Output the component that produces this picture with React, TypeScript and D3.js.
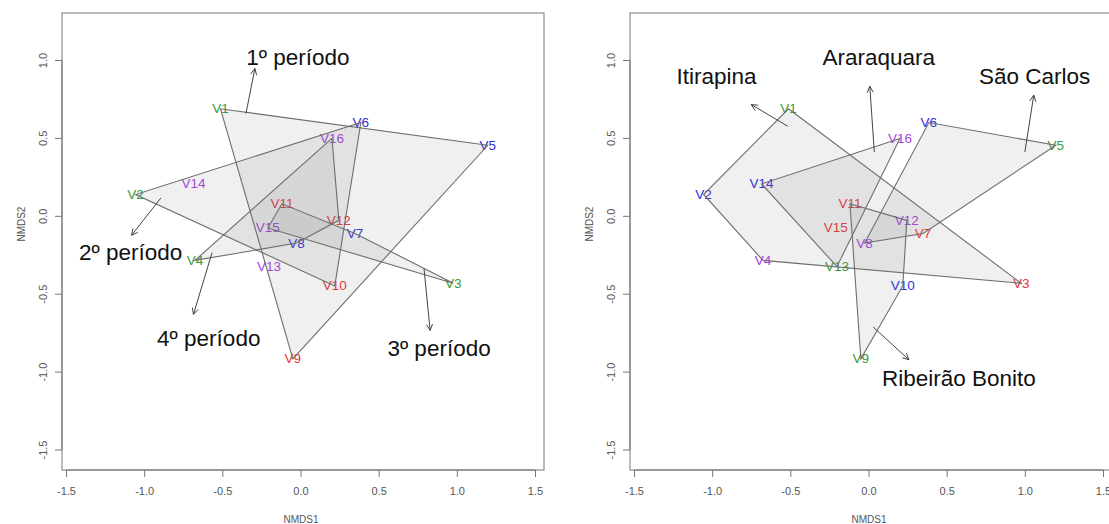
import React from "react";
import * as d3 from "d3";

// ---- data ----
const labels = ["V1","V2","V3","V4","V5","V6","V7","V8","V9","V10","V11","V12","V13","V14","V15","V16"];
const nmds1 = [-0.515,-1.058,0.974,-0.678,1.195,0.383,0.346,-0.028,-0.052,0.216,-0.122,0.242,-0.205,-0.687,-0.212,0.198];
const nmds2 = [0.69,0.14,-0.43,-0.283,0.456,0.602,-0.11,-0.172,-0.915,-0.447,0.08,-0.026,-0.323,0.208,-0.075,0.5];
// site (city) of each sample and period of each sample
const siteOf = [0,0,0,0,1,1,1,1,2,2,2,2,3,3,3,3];
const periodOf = [0,1,2,3,0,1,2,3,0,1,2,3,0,1,2,3];
const fourColors = ["#3a9a3a", "#2f2fdc", "#f03535", "#a845e6"];

const xTicks = [-1.5, -1.0, -0.5, 0.0, 0.5, 1.0, 1.5];
const yTicks = [-1.5, -1.0, -0.5, 0.0, 0.5, 1.0];

// left panel annotations (periods): arrow start, arrow end, label position
const periodNames = ["1º período", "2º período", "3º período", "4º período"];
const periodArrowFrom = [[-0.352, 0.66], [-0.896, 0.118], [0.787, -0.336], [-0.569, -0.233]];
const periodArrowTo = [[-0.295, 0.949], [-1.084, -0.122], [0.826, -0.733], [-0.688, -0.63]];
const periodLabelPos = [[-0.02, 1.02], [-1.09, -0.23], [0.883, -0.85], [-0.59, -0.786]];

// right panel annotations (cities)
const siteNames = ["Itirapina", "São Carlos", "Ribeirão Bonito", "Araraquara"];
const siteArrowFrom = [[-0.52, 0.578], [0.997, 0.413], [0.027, -0.711], [0.034, 0.413]];
const siteArrowTo = [[-0.753, 0.717], [1.054, 0.778], [0.256, -0.921], [0.005, 0.835]];
const siteLabelPos = [[-0.976, 0.9], [1.059, 0.9], [0.575, -1.043], [0.062, 1.02]];

const FONT = "'Liberation Sans', Arial, Helvetica, sans-serif";

type PanelProps = {
  offset: number;
  hullGroup: number[];
  colorGroup: number[];
  names: string[];
  arrowFrom: number[][];
  arrowTo: number[][];
  labelPos: number[][];
};

function Panel({ offset, hullGroup, colorGroup, names, arrowFrom, arrowTo, labelPos }: PanelProps) {
  const left = 62, right = 544, top = 13, bottom = 470;
  const x = d3.scaleLinear().domain([-1.5, 1.5]).range([66.5 + offset, 535.5 + offset]);
  const y = d3.scaleLinear().domain([-1.5, 1.0]).range([450, 60.5]);
  const L = left + offset, R = right + offset;

  const groups = d3.range(4).map((g) => {
    const pts = labels
      .map((_, i) => i)
      .filter((i) => hullGroup[i] === g)
      .map((i) => [x(nmds1[i]), y(nmds2[i])] as [number, number]);
    return d3.polygonHull(pts) || pts;
  });

  const arrowHead = (fx: number, fy: number, tx: number, ty: number) => {
    const a = Math.atan2(ty - fy, tx - fx);
    const len = 7, sp = Math.PI / 7;
    const p1 = [tx - len * Math.cos(a - sp), ty - len * Math.sin(a - sp)];
    const p2 = [tx - len * Math.cos(a + sp), ty - len * Math.sin(a + sp)];
    return `M${p1[0]},${p1[1]}L${tx},${ty}L${p2[0]},${p2[1]}`;
  };

  return (
    <g>
      {/* point labels */}
      {labels.map((lab, i) => (
        <text key={lab} x={x(nmds1[i])} y={y(nmds2[i])} textAnchor="middle" dominantBaseline="central"
          fontFamily={FONT} fontSize={13.5} fill={fourColors[colorGroup[i]]}>{lab}</text>
      ))}
      {/* hulls */}
      {groups.map((h, g) => (
        <path key={g} d={"M" + h.map((p) => p.join(",")).join("L") + "Z"}
          fill="rgb(120,120,120)" fillOpacity={0.11} stroke="#6e6e6e" strokeWidth={1.1} />
      ))}
      {/* arrows */}
      {names.map((n, k) => {
        const fx = x(arrowFrom[k][0]), fy = y(arrowFrom[k][1]);
        const tx = x(arrowTo[k][0]), ty = y(arrowTo[k][1]);
        return (
          <g key={n}>
            <line x1={fx} y1={fy} x2={tx} y2={ty} stroke="#444" strokeWidth={1} />
            <path d={arrowHead(fx, fy, tx, ty)} fill="none" stroke="#444" strokeWidth={1} />
            <text x={x(labelPos[k][0])} y={y(labelPos[k][1])} textAnchor="middle" dominantBaseline="central"
              fontFamily={FONT} fontSize={22.5} fill="#111">{n}</text>
          </g>
        );
      })}
      {/* box */}
      <rect x={L} y={top} width={R - L} height={bottom - top} fill="none" stroke="#777" strokeWidth={1} />
      {/* x axis */}
      <line x1={x(-1.5)} x2={x(1.5)} y1={bottom} y2={bottom} stroke="#777" />
      {xTicks.map((t) => (
        <g key={"x" + t}>
          <line x1={x(t)} x2={x(t)} y1={bottom} y2={bottom + 7} stroke="#777" />
          <text x={x(t)} y={491} textAnchor="middle" dominantBaseline="central" fontFamily={FONT}
            fontSize={11} fill="#555">{t.toFixed(1)}</text>
        </g>
      ))}
      <text x={x(0)} y={519} textAnchor="middle" dominantBaseline="central" fontFamily={FONT}
        fontSize={10} fill="#555">NMDS1</text>
      {/* y axis */}
      <line x1={L} x2={L} y1={y(-1.5)} y2={y(1.0)} stroke="#777" />
      {yTicks.map((t) => (
        <g key={"y" + t}>
          <line x1={L - 7} x2={L} y1={y(t)} y2={y(t)} stroke="#777" />
          <text transform={`translate(${L - 19},${y(t)}) rotate(-90)`} textAnchor="middle" dominantBaseline="central"
            fontFamily={FONT} fontSize={11} fill="#555">{t.toFixed(1)}</text>
        </g>
      ))}
      <text transform={`translate(${L - 41},${y(-0.05)}) rotate(-90)`} textAnchor="middle" dominantBaseline="central"
        fontFamily={FONT} fontSize={10} fill="#555">NMDS2</text>
    </g>
  );
}

export default function App() {
  return (
    <svg width={1109} height={524} style={{ position: "fixed", left: 0, top: 0, background: "#fff" }}>
      <rect x={0} y={0} width={1109} height={524} fill="#fff" />
      <Panel offset={0} hullGroup={periodOf} colorGroup={siteOf} names={periodNames}
        arrowFrom={periodArrowFrom} arrowTo={periodArrowTo} labelPos={periodLabelPos} />
      <Panel offset={568} hullGroup={siteOf} colorGroup={periodOf} names={siteNames}
        arrowFrom={siteArrowFrom} arrowTo={siteArrowTo} labelPos={siteLabelPos} />
    </svg>
  );
}
